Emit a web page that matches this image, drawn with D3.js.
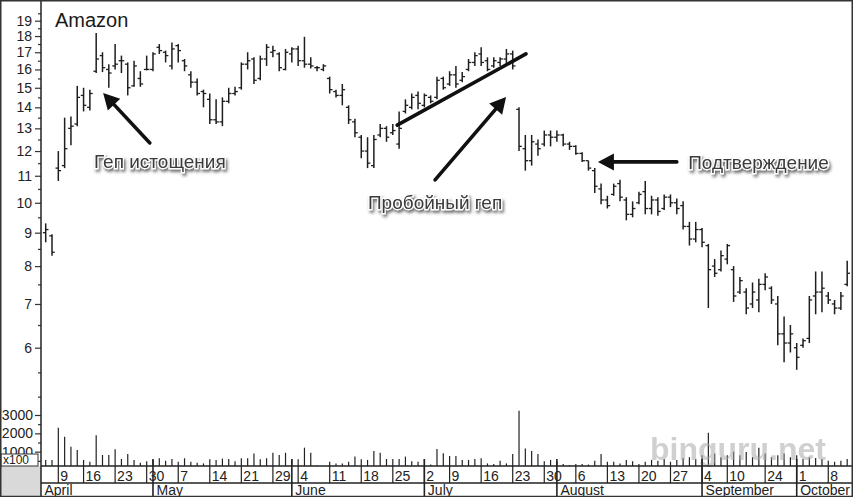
<!DOCTYPE html>
<html><head><meta charset="utf-8">
<script src="https://cdn.jsdelivr.net/npm/d3@7"></script>
<style>
html,body{margin:0;padding:0;background:#fff;}
svg{display:block;font-family:"Liberation Sans",Arial,Helvetica,sans-serif;}
</style></head>
<body>
<script>
// ---------- DATA (Amazon, April–October 2001, daily) ----------
const months = ["April","May","June","July","August","September","October"];
const tradingDays = [
  [5,6,9,10,11,12,16,17,18,19,20,23,24,25,26,27,30],
  [1,2,3,4,7,8,9,10,11,14,15,16,17,18,21,22,23,24,25,29,30,31],
  [1,4,5,6,7,8,11,12,13,14,15,18,19,20,21,22,25,26,27,28,29],
  [2,3,5,6,9,10,11,12,13,16,17,18,19,20,23,24,25,26,27,30,31],
  [1,2,3,6,7,8,9,10,13,14,15,16,17,20,21,22,23,24,27,28,29,30,31],
  [4,5,6,7,10,17,18,19,20,21,24,25,26,27,28],
  [1,2,3,4,5,8,9,10,11]
];
const highs = [
  9.3,8.95,12.0,13.5,13.55,15.1,15.0,14.9,18.2,17.0,16.3,17.5,16.8,16.4,16.5,15.9,16.8,
  17.0,17.5,17.1,17.6,17.5,16.6,15.9,15.5,14.9,14.7,14.4,14.5,15.0,15.05,16.4,17.0,16.7,16.8,17.5,17.4,17.0,17.2,
  17.3,17.4,17.95,16.7,16.2,16.3,15.6,14.9,15.2,14.1,13.45,12.7,12.6,12.7,13.2,13.1,13.2,13.8,14.4,14.7,14.8,
  14.7,14.6,15.6,15.6,15.9,16.2,15.85,16.6,17.0,17.3,16.7,16.7,16.7,17.2,17.1,14.0,12.7,12.7,12.5,12.9,12.9,
  12.9,12.75,12.4,12.25,11.95,11.6,11.3,10.7,10.25,10.7,10.85,10.2,10.05,10.4,10.8,10.25,10.2,10.3,10.3,10.15,10.05,9.35,9.35,
  9.15,8.65,8.2,8.45,8.65,8.0,7.7,7.4,7.55,7.65,7.8,7.45,7.2,6.7,6.5,
  6.1,6.2,7.2,7.85,7.85,7.3,7.1,7.3,8.15
];
const lows = [
  8.7,8.3,10.8,11.3,12.25,13.1,13.8,13.85,15.8,15.85,15.0,16.0,15.8,14.6,15.05,15.05,15.95,
  15.9,16.9,16.4,16.0,16.4,15.9,15.0,14.6,14.0,13.2,13.2,13.1,14.2,14.6,14.9,16.0,15.2,15.4,16.2,16.7,15.9,15.95,
  16.4,16.2,16.1,16.05,15.9,15.9,14.7,14.5,14.1,13.2,12.6,11.7,11.3,11.3,12.6,12.4,12.7,12.1,13.7,13.9,13.9,
  14.0,14.2,14.4,14.9,15.1,15.0,15.3,15.9,16.2,16.2,15.9,16.1,16.2,16.3,16.0,12.0,11.2,11.4,11.8,12.2,12.2,
  12.4,12.2,12.05,11.85,11.55,11.2,10.35,9.95,9.8,10.25,10.05,9.4,9.5,9.95,9.6,9.6,9.55,9.75,9.85,9.6,9.1,8.6,8.7,
  8.55,6.9,7.7,7.85,8.05,7.05,7.25,6.75,6.9,6.8,7.35,7.0,6.05,5.7,5.9,
  5.55,6.0,6.1,6.75,6.8,7.0,6.75,6.85,7.45
];
const opens = [
  9.0,8.9,11.3,11.4,13.0,13.2,14.6,14.0,15.9,16.8,16.0,16.2,16.5,16.3,15.1,15.5,16.0,
  16.0,17.3,17.0,16.2,17.4,16.5,15.7,15.3,14.8,14.4,13.4,13.3,14.3,14.7,15.0,16.3,16.6,15.5,16.6,17.0,16.9,16.0,
  16.9,17.2,16.5,16.3,16.1,16.0,15.5,14.8,14.6,14.0,13.3,12.6,12.0,11.4,12.7,13.0,12.8,12.3,13.8,14.0,14.6,
  14.1,14.5,14.5,15.5,15.2,15.7,15.4,16.0,16.4,16.9,16.5,16.2,16.4,16.6,16.9,13.9,12.1,11.6,12.3,12.3,12.7,
  12.6,12.7,12.3,12.2,11.9,11.6,11.2,10.5,10.1,10.3,10.7,10.1,9.6,10.0,10.4,9.8,10.1,9.8,10.2,10.0,9.9,9.2,8.8,
  9.1,8.6,8.0,7.9,8.2,7.9,7.3,7.3,7.0,7.1,7.5,7.4,7.0,6.3,6.1,
  6.0,6.05,6.2,7.2,7.3,7.2,7.0,6.9,7.5
];
const closes = [
  9.1,8.4,11.2,12.1,13.1,14.5,14.1,14.7,16.6,16.1,15.8,16.3,16.5,15.0,16.2,15.2,16.0,
  16.9,17.1,16.8,17.2,17.1,16.2,15.3,14.7,14.7,13.4,13.3,14.3,14.7,14.8,16.3,16.5,15.4,16.6,17.3,17.1,16.1,17.0,
  17.2,16.5,16.3,16.2,16.1,16.2,14.9,14.6,14.9,13.4,12.8,12.0,11.5,12.5,13.0,12.6,12.9,13.0,14.1,14.5,14.2,
  14.6,14.3,15.4,15.0,15.7,15.2,15.6,16.4,16.8,16.4,16.0,16.5,16.6,16.9,16.2,12.2,11.6,12.4,12.1,12.7,12.6,
  12.7,12.3,12.2,11.9,11.6,11.3,10.6,10.1,9.9,10.6,10.2,9.6,9.8,10.3,9.8,10.1,9.7,10.2,10.0,9.8,9.2,8.8,9.1,
  8.7,7.9,7.8,8.3,8.6,7.2,7.6,6.9,7.3,7.5,7.7,7.1,6.3,6.1,6.3,
  5.8,6.15,7.1,7.3,7.4,7.1,6.9,7.2,7.8
];
// volume, in hundreds of shares
const volumes = [
  550,550,2300,1820,1270,1090,550,450,1900,820,820,1130,600,870,550,400,480,
  550,640,500,600,450,640,450,400,360,580,550,620,600,480,640,640,900,580,640,940,820,940,
  580,580,1220,940,250,200,450,360,360,450,730,580,550,1030,940,600,600,600,730,480,450,
  580,300,1140,910,760,760,550,550,600,640,360,330,500,360,870,3230,1170,1030,870,480,550,
  480,330,270,330,330,300,500,870,450,450,360,550,480,330,450,550,500,600,450,550,650,700,600,
  800,2030,900,700,800,1000,800,980,700,1220,900,700,800,900,700,
  800,600,700,650,600,500,450,500,600
];
const dayLabels = ["April-9","April-16","April-23","April-30","May-7","May-14","May-21","May-29",
  "June-4","June-11","June-18","June-25","July-2","July-9","July-16","July-23","July-30",
  "August-6","August-13","August-20","August-27","September-4","September-10","September-24",
  "October-1","October-8"];
const priceTicks = [6,7,8,9,10,11,12,13,14,15,16,17,18,19];
const priceMinorTicks = [5.5,6.5,7.5,8.5,9.5,10.5,11.5,12.5,13.5,14.5,15.5,16.5,17.5,18.5,19.5];
const volumeTicks = [1000,2000,3000];
const volumeMinorTicks = [500,1500,2500,4000];
const title = "Amazon";
// annotations in data space: [date index, price]
const annotations = [
  {text:"Геп истощения", at:[18.1,11.56], anchor:"middle", arrow:{from:[16.5,12.35], to:[9.1,14.73]}},
  {text:"Пробойный геп", at:[61.7,10.03], anchor:"middle", arrow:{from:[61.7,10.84], to:[72.95,14.52]}},
  {text:"Подтверждение", at:[101.8,11.55], anchor:"start", arrow:{from:[100.0,11.55], to:[87.5,11.55]}}
];
const trendLine = [[55.7,13.15],[76.1,16.9]];

// ---------- BUILD ----------
const dates = [];
tradingDays.forEach((days,mi)=>days.forEach(d=>dates.push({month:months[mi], day:d, key:months[mi]+"-"+d})));
const bars = dates.map((d,i)=>({...d, o:opens[i], h:highs[i], l:lows[i], c:closes[i], v:volumes[i]}));

const W=854, H=497;
const axisX=41, volBase=466, dayRowBottom=483, bottomY=497, rightX=852;

const svg = d3.select("body").append("svg").attr("width",W).attr("height",H);
const defs = svg.append("defs");
const f = defs.append("filter").attr("id","shadow").attr("x","-20%").attr("y","-60%").attr("width","140%").attr("height","220%");
f.append("feDropShadow").attr("dx",1.5).attr("dy",2.5).attr("stdDeviation",1.7).attr("flood-color","#000").attr("flood-opacity",0.6);
defs.append("clipPath").attr("id","volclip").append("rect").attr("x",axisX).attr("y",0).attr("width",rightX-axisX).attr("height",volBase);

const x = d3.scalePoint().domain(dates.map(d=>d.key)).range([45.7, 45.7+6.311*(dates.length-1)]);
const xi = i => x.range()[0] + i*x.step();
const y = d3.scaleLog().domain([6,19]).range([347.7,20.7]);
const v = d3.scaleLinear().domain([0,3000]).range([470,415]);

// background
svg.append("rect").attr("width",W).attr("height",H).attr("fill","#fff");
svg.append("rect").attr("x",0).attr("y",volBase).attr("width",axisX).attr("height",bottomY-volBase).attr("fill","#d9d9d9");

// volume bars
svg.append("g").attr("clip-path","url(#volclip)").selectAll("line").data(bars).join("line")
  .attr("x1",d=>x(d.key)).attr("x2",d=>x(d.key))
  .attr("y1",d=>v(d.v)).attr("y2",volBase)
  .attr("stroke","#222").attr("stroke-width",1.2);

// OHLC bars
const g = svg.append("g").attr("stroke","#1e1e1e").attr("stroke-width",1.5);
g.selectAll(".hl").data(bars).join("line")
  .attr("x1",d=>x(d.key)).attr("x2",d=>x(d.key)).attr("y1",d=>y(d.h)).attr("y2",d=>y(d.l));
g.selectAll(".op").data(bars).join("line")
  .attr("x1",d=>x(d.key)-2.8).attr("x2",d=>x(d.key)).attr("y1",d=>y(d.o)).attr("y2",d=>y(d.o)).attr("stroke-width",1.3);
g.selectAll(".cl").data(bars).join("line")
  .attr("x1",d=>x(d.key)).attr("x2",d=>x(d.key)+2.8).attr("y1",d=>y(d.c)).attr("y2",d=>y(d.c)).attr("stroke-width",1.3);

// price axis
const yAx = svg.append("g").attr("transform",`translate(${axisX},0)`)
  .call(d3.axisLeft(y).tickValues(priceTicks).tickSize(6).tickPadding(3).tickFormat(d3.format("d")));
const yAxMinor = svg.append("g").attr("transform",`translate(${axisX},0)`)
  .call(d3.axisLeft(y).tickValues(priceMinorTicks).tickSize(3).tickFormat(""));
// volume axis
const vAx = svg.append("g").attr("transform",`translate(${axisX},0)`)
  .call(d3.axisLeft(v).tickValues(volumeTicks).tickSize(6).tickPadding(2).tickFormat(d3.format("d")));
const vAxMinor = svg.append("g").attr("transform",`translate(${axisX},0)`)
  .call(d3.axisLeft(v).tickValues(volumeMinorTicks).tickSize(3).tickFormat(""));
[yAx,yAxMinor,vAx,vAxMinor].forEach(a=>{
  a.select(".domain").remove();
  a.selectAll("line").attr("stroke","#333").attr("stroke-width",1.2);
  a.selectAll("text").attr("fill","#222").style("font-size","14px").style("font-family","Liberation Sans, Arial, sans-serif");
});

// x100 box
svg.append("rect").attr("x",1).attr("y",454).attr("width",37).attr("height",12).attr("fill","#fff").attr("stroke","#333").attr("stroke-width",1);
svg.append("text").attr("x",3).attr("y",464).attr("font-size",12).attr("fill","#222").text("x100");

// axis line
svg.append("line").attr("x1",axisX).attr("x2",axisX).attr("y1",0).attr("y2",bottomY).attr("stroke","#222").attr("stroke-width",1.5);

// watermark (drawn under the date rows)
svg.append("text").attr("x",650).attr("y",460).attr("font-size",32).attr("font-weight","bold")
  .attr("fill","#aaa").attr("opacity",0.55).text("binguru.net");

// date rows
svg.append("line").attr("x1",axisX).attr("x2",rightX).attr("y1",volBase).attr("y2",volBase).attr("stroke","#222").attr("stroke-width",1.3);
svg.append("line").attr("x1",axisX).attr("x2",rightX).attr("y1",dayRowBottom).attr("y2",dayRowBottom).attr("stroke","#222").attr("stroke-width",1.3);
const dl = svg.append("g").selectAll("g").data(dayLabels).join("g").attr("transform",d=>`translate(${x(d)},0)`);
dl.append("line").attr("y1",volBase).attr("y2",dayRowBottom).attr("stroke","#222").attr("stroke-width",1.2);
dl.append("text").attr("x",2).attr("y",480.5).attr("font-size",14).attr("fill","#222").text(d=>d.split("-")[1]);

const monthStarts = months.map(m=>dates.find(d=>d.month===m));
const ml = svg.append("g").selectAll("g").data(monthStarts).join("g")
  .attr("transform",(d,i)=>`translate(${i===0?axisX:x(d.key)},0)`);
ml.append("line").attr("y1",(d,i)=>i===0?volBase:459).attr("y2",bottomY).attr("stroke","#222").attr("stroke-width",(d,i)=>i===0?0:1.6);
ml.append("text").attr("x",3.5).attr("y",495).attr("font-size",14).attr("fill","#222").text(d=>d.month);

// title
svg.append("text").attr("x",55).attr("y",27).attr("font-size",20).attr("fill","#1a1a1a").text(title);

// trend line
svg.append("line")
  .attr("x1",xi(trendLine[0][0])).attr("y1",y(trendLine[0][1]))
  .attr("x2",xi(trendLine[1][0])).attr("y2",y(trendLine[1][1]))
  .attr("stroke","#111").attr("stroke-width",3.6).attr("stroke-linecap","round");

// arrows
function arrow(from,to){
  const x1=xi(from[0]), y1=y(from[1]), x2=xi(to[0]), y2=y(to[1]);
  const dx=x2-x1, dy=y2-y1, len=Math.hypot(dx,dy), ux=dx/len, uy=dy/len;
  const hl=16, hw=8.5;
  const bx=x2-ux*hl, by=y2-uy*hl;
  svg.append("line").attr("x1",x1).attr("y1",y1).attr("x2",bx+ux*2).attr("y2",by+uy*2)
    .attr("stroke","#111").attr("stroke-width",3.6).attr("stroke-linecap","round");
  svg.append("path").attr("d",`M${x2},${y2}L${bx-uy*hw},${by+ux*hw}L${bx+uy*hw},${by-ux*hw}Z`).attr("fill","#111");
}
annotations.forEach(a=>arrow(a.arrow.from,a.arrow.to));

// annotation texts
svg.append("g").selectAll("text").data(annotations).join("text")
  .attr("x",d=>xi(d.at[0])).attr("y",d=>y(d.at[1])).attr("dy","0.35em")
  .attr("text-anchor",d=>d.anchor).attr("font-size",19).attr("fill","#3a3a3a")
  .attr("stroke","#fff").attr("stroke-width",2.4).attr("paint-order","stroke")
  .attr("filter","url(#shadow)").text(d=>d.text);

// frame
svg.append("rect").attr("x",0.75).attr("y",0.75).attr("width",rightX-0.5).attr("height",bottomY-1.25)
  .attr("fill","none").attr("stroke","#333").attr("stroke-width",1.5);
</script>
</body></html>
